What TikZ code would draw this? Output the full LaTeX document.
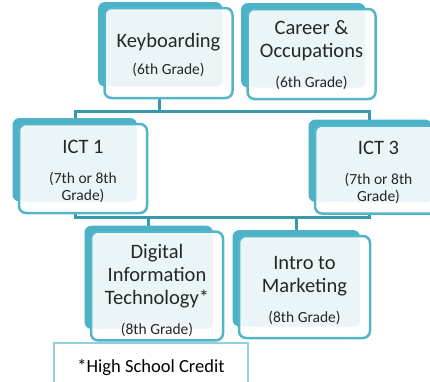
\documentclass[tikz,border=0pt]{standalone}
\usepackage{fontspec}
\setmainfont{Carlito}
\usetikzlibrary{backgrounds}

\definecolor{cardback}{HTML}{4BB2C7}
\definecolor{cardedge}{HTML}{52B5CA}
\definecolor{cardpale}{HTML}{EBF5F8}
\definecolor{cardtext}{HTML}{262626}
\definecolor{linkteal}{HTML}{3A98AC}
\definecolor{noteedge}{HTML}{93D0DD}

\newcommand{\grade}[1]{{\fontsize{15.5}{17}\selectfont #1}}
\newcommand{\lift}[1]{\rule{0pt}{#1}}

\tikzset{
  card/.style={draw=cardedge, line width=2.5pt, fill=white, outer sep=0pt,
    rounded corners=7pt, align=center, text=cardtext,
    font=\fontsize{20.5}{23}\selectfont,
    path picture={\fill[cardpale, rounded corners=5pt]
      (path picture bounding box.north west) rectangle
      ([shift={(-10pt,11.5pt)}]path picture bounding box.south east);}},
  link/.style={draw=linkteal, line width=3pt},
  note/.style={draw=noteedge, line width=1.5pt, fill=white,
    font=\fontsize{18.5}{22}\selectfont}
}

\begin{document}
\begin{tikzpicture}[x=1pt, y=-1pt]
  \useasboundingbox (0,0) rectangle (430,381);

  % Boxes
  \node[card, minimum width=128pt, minimum height=90pt] (kb) at (168.5,53)
    {\lift{18pt}Keyboarding\\[4pt]\grade{(6th Grade)}};
  \node[card, minimum width=128pt, minimum height=90pt] (career) at (311.5,54)
    {\lift{16pt}Career \&\\Occupations\\[7pt]\grade{(6th Grade)}};
  \node[card, minimum width=128pt, minimum height=89pt] (ict1) at (83,168.5)
    {\lift{19pt}ICT 1\\[7pt]\grade{(7th or 8th}\\[-6pt]\grade{Grade)}};
  \node[card, minimum width=127pt, minimum height=88pt] (ict3) at (378.5,169.5)
    {\lift{19pt}ICT 3\\[7pt]\grade{(7th or 8th}\\[-6pt]\grade{Grade)}};
  \node[card, minimum width=132pt, minimum height=102pt] (dit) at (157,286)
    {\lift{24pt}Digital\\Information\\Technology*\\[7pt]\grade{(8th Grade)}};
  \node[card, minimum width=131pt, minimum height=102pt] (mkt) at (304.5,287)
    {\lift{20pt}Intro to\\Marketing\\[7pt]\grade{(8th Grade)}};

  % Footnote
  \node[note, minimum width=194pt, minimum height=50pt] (credit) at (151,368)
    {*High School Credit};

  \begin{scope}[on background layer]
    % Links
    \draw[link] ([xshift=-9pt]kb.center) -- ++(0,58) coordinate (busA);
    \draw[link] ([xshift=-8pt]ict1.center) |- (busA) -| ([xshift=-9pt]ict3.center);
    \draw[link] ([xshift=-9pt]dit.center) -- ++(0,-69) coordinate (busB);
    \draw[link] ([xshift=-8pt]ict1.center) |- (busB) -| ([xshift=-9pt]ict3.center);
    \draw[link] ([xshift=-8.5pt]mkt.center) |- (busB);

    % Shadows
    \foreach \n in {kb, career, ict1, ict3, dit, mkt}
      \fill[cardback, rounded corners=7pt] ([shift={(-6.5pt,6pt)}]\n.north west)
        rectangle ([shift={(-10pt,11.5pt)}]\n.south east);
  \end{scope}
\end{tikzpicture}
\end{document}
